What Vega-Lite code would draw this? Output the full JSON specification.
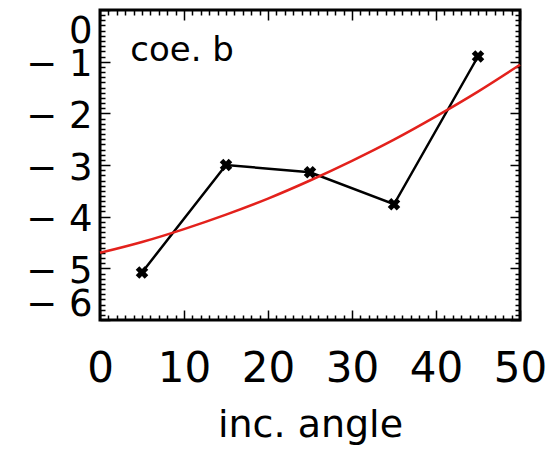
{
  "$schema": "https://vega.github.io/schema/vega-lite/v6.json",
  "width": 420,
  "height": 310,
  "autosize": {"type": "none"},
  "padding": {"left": 100, "top": 10, "right": 29, "bottom": 131},
  "background": "white",
  "config": {
    "view": {"stroke": "black", "strokeWidth": 3},
    "axis": {"domain": false, "grid": false, "labelFont": "DejaVu Sans", "titleFont": "DejaVu Sans", "tickColor": "black", "labelColor": "black", "titleColor": "black", "labelOverlap": false, "tickWidth": 1.5}
  },
  "datasets": {
    "obs": [
      {"angle": 5, "b": -5.08},
      {"angle": 15, "b": -3.0},
      {"angle": 25, "b": -3.14},
      {"angle": 35, "b": -3.76},
      {"angle": 45, "b": -0.9}
    ],
    "fit": [
      {"angle": 0, "b": -4.70},
      {"angle": 5, "b": -4.49},
      {"angle": 10, "b": -4.24},
      {"angle": 15, "b": -3.96},
      {"angle": 20, "b": -3.65},
      {"angle": 25, "b": -3.30},
      {"angle": 30, "b": -2.92},
      {"angle": 35, "b": -2.51},
      {"angle": 40, "b": -2.06},
      {"angle": 45, "b": -1.58},
      {"angle": 50, "b": -1.06}
    ],
    "note": [{"label": "coe. b"}]
  },
  "layer": [
    {
      "data": {"name": "obs"},
      "mark": {"type": "line", "color": "black", "strokeWidth": 2.5},
      "encoding": {
        "x": {"field": "angle", "type": "quantitative", "scale": {"domain": [0, 50], "nice": false, "zero": false},
          "axis": {"orient": "bottom", "title": "inc. angle", "titleFontSize": 38, "titleFontWeight": "normal", "titlePadding": 12, "labelFontSize": 42, "labelPadding": 38, "labelFlush": false,
            "values": [0,1,2,3,4,5,6,7,8,9,10,11,12,13,14,15,16,17,18,19,20,21,22,23,24,25,26,27,28,29,30,31,32,33,34,35,36,37,38,39,40,41,42,43,44,45,46,47,48,49,50],
            "tickSize": {"condition": {"test": "datum.value % 10 === 0", "value": -10}, "value": -5},
            "labelExpr": "datum.value % 10 === 0 ? datum.label : ''"}},
        "y": {"field": "b", "type": "quantitative", "scale": {"domain": [-6, 0], "nice": false, "zero": false},
          "axis": {"orient": "left", "title": null, "labelFontSize": 37, "labelPadding": 18, "labelFlush": true, "labelOffset": 3,
            "values": [-6,-5.9,-5.8,-5.7,-5.6,-5.5,-5.4,-5.3,-5.2,-5.1,-5,-4.9,-4.8,-4.7,-4.6,-4.5,-4.4,-4.3,-4.2,-4.1,-4,-3.9,-3.8,-3.7,-3.6,-3.5,-3.4,-3.3,-3.2,-3.1,-3,-2.9,-2.8,-2.7,-2.6,-2.5,-2.4,-2.3,-2.2,-2.1,-2,-1.9,-1.8,-1.7,-1.6,-1.5,-1.4,-1.3,-1.2,-1.1,-1,-0.9,-0.8,-0.7,-0.6,-0.5,-0.4,-0.3,-0.2,-0.1,0],
            "tickSize": {"condition": {"test": "abs(datum.value - round(datum.value)) < 1e-6", "value": -10}, "value": -5},
            "labelExpr": "abs(datum.value - round(datum.value)) < 1e-6 ? (datum.value < -0.5 ? '\u2212 ' + format(abs(datum.value), 'd') : '0') : ''"}}
      }
    },
    {
      "data": {"name": "obs"},
      "mark": {"type": "point", "shape": "cross", "angle": 45, "filled": true, "color": "black", "size": 160, "opacity": 1},
      "encoding": {
        "x": {"field": "angle", "type": "quantitative", "axis": null},
        "y": {"field": "b", "type": "quantitative", "axis": null}
      }
    },
    {
      "data": {"name": "fit"},
      "mark": {"type": "line", "color": "#e3211c", "strokeWidth": 2.5, "interpolate": "monotone"},
      "encoding": {
        "x": {"field": "angle", "type": "quantitative",
          "axis": {"orient": "top", "title": null, "labels": false,
            "values": [0,1,2,3,4,5,6,7,8,9,10,11,12,13,14,15,16,17,18,19,20,21,22,23,24,25,26,27,28,29,30,31,32,33,34,35,36,37,38,39,40,41,42,43,44,45,46,47,48,49,50],
            "tickSize": {"condition": {"test": "datum.value % 10 === 0", "value": -10}, "value": -5}}},
        "y": {"field": "b", "type": "quantitative",
          "axis": {"orient": "right", "title": null, "labels": false,
            "values": [-6,-5.9,-5.8,-5.7,-5.6,-5.5,-5.4,-5.3,-5.2,-5.1,-5,-4.9,-4.8,-4.7,-4.6,-4.5,-4.4,-4.3,-4.2,-4.1,-4,-3.9,-3.8,-3.7,-3.6,-3.5,-3.4,-3.3,-3.2,-3.1,-3,-2.9,-2.8,-2.7,-2.6,-2.5,-2.4,-2.3,-2.2,-2.1,-2,-1.9,-1.8,-1.7,-1.6,-1.5,-1.4,-1.3,-1.2,-1.1,-1,-0.9,-0.8,-0.7,-0.6,-0.5,-0.4,-0.3,-0.2,-0.1,0],
            "tickSize": {"condition": {"test": "abs(datum.value - round(datum.value)) < 1e-6", "value": -10}, "value": -5}}}
      }
    },
    {
      "data": {"name": "note"},
      "mark": {"type": "text", "font": "DejaVu Sans", "fontSize": 34, "align": "left", "baseline": "middle", "color": "black"},
      "encoding": {
        "text": {"field": "label"},
        "x": {"datum": 3.6, "type": "quantitative", "axis": null},
        "y": {"datum": -0.8, "type": "quantitative", "axis": null}
      }
    }
  ],
  "resolve": {"axis": {"x": "independent", "y": "independent"}}
}
